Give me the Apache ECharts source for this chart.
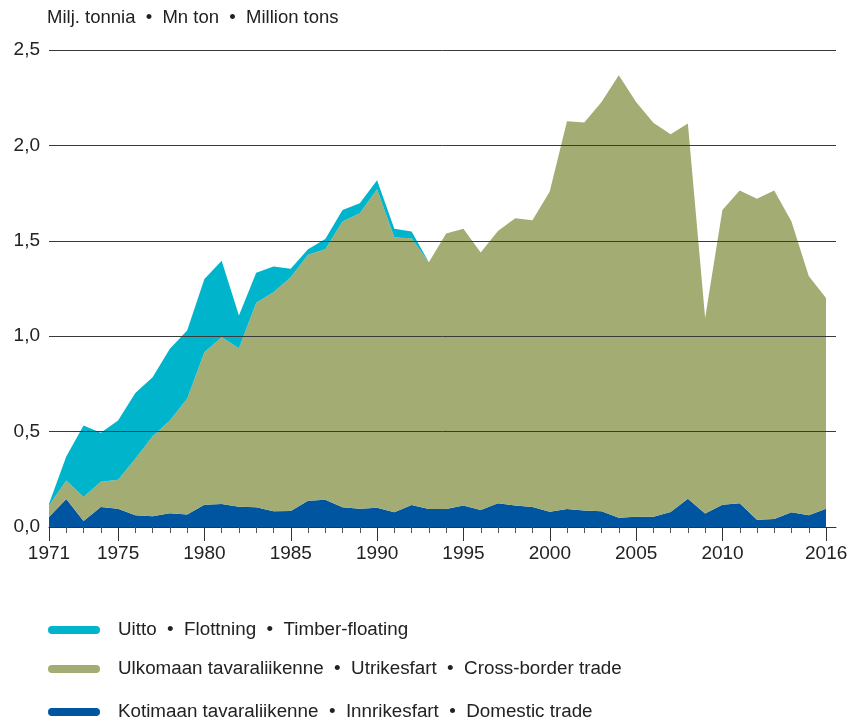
<!DOCTYPE html>
<html>
<head>
<meta charset="utf-8">
<script src="https://cdn.jsdelivr.net/npm/echarts@6/dist/echarts.min.js"></script>
<style>
  html, body { margin: 0; padding: 0; background: #fff; }
  #chart { width: 853px; height: 723px; }
</style>
</head>
<body>
<div id="chart"></div>
<script>
// vuodet / years
var years = [1971, 1972, 1973, 1974, 1975, 1976, 1977, 1978, 1979, 1980,
             1981, 1982, 1983, 1984, 1985, 1986, 1987, 1988, 1989, 1990,
             1991, 1992, 1993, 1994, 1995, 1996, 1997, 1998, 1999, 2000,
             2001, 2002, 2003, 2004, 2005, 2006, 2007, 2008, 2009, 2010,
             2011, 2012, 2013, 2014, 2015, 2016];
var labelYears = [1971, 1975, 1980, 1985, 1990, 1995, 2000, 2005, 2010, 2016];

// Kotimaan tavaraliikenne / Domestic trade (Mn t)
var domestic = [0.052, 0.147, 0.031, 0.105, 0.096, 0.061, 0.056, 0.072, 0.065, 0.117,
                0.120, 0.106, 0.103, 0.082, 0.084, 0.137, 0.143, 0.103, 0.096, 0.101,
                0.077, 0.115, 0.094, 0.094, 0.113, 0.089, 0.124, 0.113, 0.105, 0.080,
                0.094, 0.087, 0.082, 0.049, 0.054, 0.054, 0.078, 0.148, 0.071, 0.117,
                0.124, 0.038, 0.042, 0.077, 0.061, 0.096];
// Ulkomaan tavaraliikenne / Cross-border trade
var crossBorder = [0.061, 0.097, 0.126, 0.132, 0.152, 0.297, 0.419, 0.486, 0.607, 0.799,
                   0.875, 0.831, 1.072, 1.148, 1.225, 1.290, 1.313, 1.498, 1.549, 1.669,
                   1.440, 1.399, 1.293, 1.444, 1.450, 1.350, 1.428, 1.505, 1.503, 1.678,
                   2.033, 2.033, 2.146, 2.319, 2.174, 2.065, 1.980, 1.967, 1.024, 1.545,
                   1.639, 1.683, 1.721, 1.524, 1.255, 1.104];
// Uitto / Timber-floating
var timber = [0.009, 0.126, 0.375, 0.257, 0.310, 0.344, 0.310, 0.376, 0.358, 0.384,
              0.401, 0.171, 0.157, 0.135, 0.044, 0.029, 0.053, 0.061, 0.052, 0.047,
              0.046, 0.035, 0, 0, 0, 0, 0, 0, 0, 0,
              0, 0, 0, 0, 0, 0, 0, 0, 0, 0,
              0, 0, 0, 0, 0, 0];

var names = [
    'Uitto  \u2022  Flottning  \u2022  Timber-floating',
    'Ulkomaan tavaraliikenne  \u2022  Utrikesfart  \u2022  Cross-border trade',
    'Kotimaan tavaraliikenne  \u2022  Innrikesfart  \u2022  Domestic trade'
];
var colors = ['#00b4cc', '#a3ac72', '#0055a0'];
var font = "'Liberation Sans', Arial, Helvetica, sans-serif";

function areaSeries( name, values, color ) {
    return {
        name: name,
        type: 'line',
        stack: 'total',
        xAxisIndex: 0,
        yAxisIndex: 0,
        data: values,
        color: color,
        showSymbol: false,
        lineStyle: { width: 0 },
        areaStyle: { color: color, opacity: 1 }
    };
}

function legendAt( name, top ) {
    return {
        data: [name],
        left: 48,
        top: top,
        padding: 0,
        orient: 'vertical',
        // pill shaped swatch
        icon: 'path://M4,0 H48 A4,4 0 0 1 48,8 H4 A4,4 0 0 1 4,0 Z',
        itemWidth: 52,
        itemHeight: 8,
        selectedMode: false,
        textStyle: {
            fontFamily: font, fontSize: 18.8, color: '#222',
            lineHeight: 20, padding: [0, 0, 0, 13]
        }
    };
}

// the axis line runs a little past the last year
var xMax = 2016.57;
var myChart = echarts.init(document.getElementById('chart')),
    option = {
        animation: false,
        title: {
            text: 'Milj. tonnia  \u2022  Mn ton  \u2022  Million tons',
            left: 42,
            top: 3,
            textStyle: { fontFamily: font, fontSize: 18.5, fontWeight: 'normal', color: '#222' }
        },
        legend: [
            legendAt(names[0], 620),
            legendAt(names[1], 659),
            legendAt(names[2], 702)
        ],
        grid: [
            { left: 49, right: 27, top: 50, bottom: 196 },   // areas
            { left: 49, right: 17, top: 50, bottom: 196 }    // axes and grid lines
        ],
        xAxis: [
            {
                type: 'category',
                gridIndex: 0,
                data: years,
                boundaryGap: false,
                axisLine: { show: false },
                axisTick: { show: false },
                axisLabel: { show: false },
                splitLine: { show: false }
            },
            {
                type: 'value',
                gridIndex: 1,
                min: 1971,
                max: xMax,
                z: 5,
                axisLine: { show: true, lineStyle: { color: '#333', width: 1 } },
                axisTick: { show: true, customValues: years, length: 6, lineStyle: { color: '#555' } },
                axisLabel: { show: false },
                splitLine: { show: false }
            },
            {
                type: 'value',
                gridIndex: 1,
                min: 1971,
                max: xMax,
                position: 'bottom',
                z: 5,
                axisLine: { show: false },
                axisTick: { show: true, customValues: labelYears, length: 14, lineStyle: { color: '#333' } },
                axisLabel: {
                    customValues: labelYears,
                    fontFamily: font, fontSize: 19, color: '#222', margin: 17,
                    formatter: function (v) { return String(v); }
                },
                splitLine: { show: false }
            }
        ],
        yAxis: [
            {
                type: 'value',
                gridIndex: 0,
                min: 0,
                max: 2.5,
                show: false
            },
            {
                type: 'value',
                gridIndex: 1,
                min: 0,
                max: 2.5,
                interval: 0.5,
                z: 5,
                axisLine: { show: false },
                axisTick: { show: false },
                axisLabel: {
                    fontFamily: font, fontSize: 19, color: '#222', margin: 9,
                    formatter: function (v) { return v.toFixed(1).replace('.', ','); }
                },
                splitLine: { lineStyle: { color: '#3a3a3a', width: 1 } }
            }
        ],
        series: [
            areaSeries(names[2], domestic, colors[2]),
            areaSeries(names[1], crossBorder, colors[1]),
            areaSeries(names[0], timber, colors[0])
        ]
    };

myChart.setOption(option);
</script>
</body>
</html>
